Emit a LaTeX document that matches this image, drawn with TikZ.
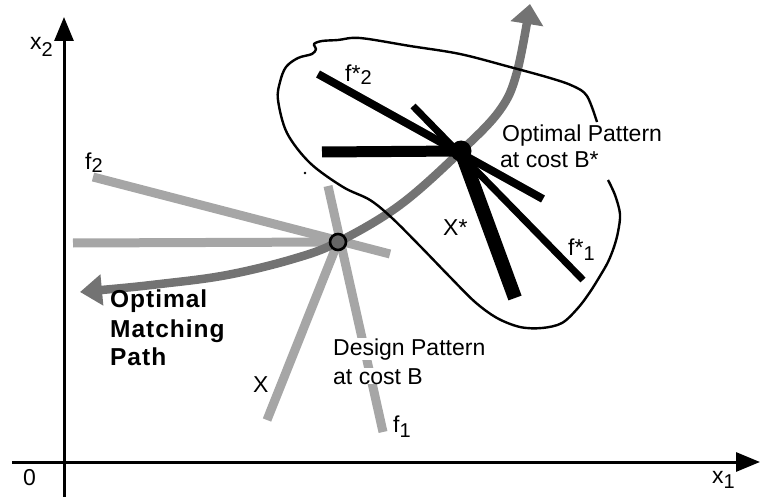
\documentclass[tikz,border=0pt]{standalone}
\usepackage{fontspec}
\setmainfont{Liberation Sans}
\usetikzlibrary{arrows.meta}
\newcommand{\lowsub}[2]{\raisebox{-#1pt}{\fontsize{20}{20}\selectfont #2}}
\begin{document}
\begin{tikzpicture}[x=1pt,y=-1pt,
  axis/.style={line width=3pt,-{Triangle[length=24pt,width=19pt]}},
  pathline/.style={line width=8.5pt,color=black!55,
     {Triangle[length=22pt,width=30pt]}-{Triangle[length=20pt,width=32pt]}},
  design/.style={line width=9pt,color=black!35},
  optline/.style={line width=8pt,black},
  boundary/.style={line width=2.4pt,black,line join=round},
  lbl/.style={font=\fontsize{23}{27}\selectfont,inner sep=0pt,anchor=base west},
  boldlbl/.style={font=\fontsize{24.5}{28}\selectfont\bfseries\addfontfeatures{LetterSpace=4},inner sep=0pt,anchor=base west}]
\useasboundingbox (0,0) rectangle (760,497);

% key points
\coordinate (D) at (338,242);
\coordinate (O) at (461,151);

% axes
\coordinate (yb) at (64,497);
\coordinate (yt) at (64,17);
\coordinate (xl) at (12,462);
\coordinate (xr) at (760,462);
\draw[axis] (yb) -- (yt);
\draw[axis] (xl) -- (xr);

% design pattern (gray)
\coordinate (f2a) at (93,177);
\coordinate (f2b) at (390,254);
\coordinate (ha) at (73,243);
\coordinate (f1a) at (328,186);
\coordinate (f1b) at (383,432);
\coordinate (xa) at (267,420);
\draw[design] (f2a) -- (f2b);
\draw[design] (ha) -- (D);
\draw[design] (f1a) -- (f1b);
\draw[design] (D) -- (xa);

% optimal matching path
\draw[pathline] plot[smooth,tension=0.6] coordinates {(80,292) (160,284) (227,275) (293,259) (338,242) (400,205) (461,151) (500,110) (517,72) (530,4)};

% design point
\fill[black!60] (D) circle (8);
\draw[black,line width=2.6pt] (D) circle (8);
\node[circle,inner sep=0pt,minimum size=19pt] (Dc) at (D) {};

% feasible region boundary (open at the label)
\draw[boundary] plot[smooth,tension=0.55] coordinates {(597,122) (587,96) (573,86) (550,78) (510,67) (460,54) (410,46) (360,38) (338,40) (322,41) (314,44) (316,49) (312,54) (298,58) (286,67) (280,82) (278,100) (287,133) (310,163) (343,187) (370,200) (392,218) (420,246) (450,277) (475,302) (497,318) (520,327) (542,328) (562,323) (578,308) (590,292) (600,276) (608,262) (614,247) (618,232) (620,214) (615,195) (608,180)};
\fill (305,173) circle (1.4);

% optimal pattern (black)
\coordinate (s2a) at (318,74);
\coordinate (s2b) at (543,199);
\coordinate (s1a) at (413,106);
\coordinate (s1b) at (583,280);
\coordinate (sha) at (322,152);
\coordinate (sxa) at (515,298);
\draw[optline] (s2a) -- (s2b);
\draw[optline,line width=7pt] (s1a) -- (s1b);
\draw[optline,line width=11pt] (sha) -- (O);
\draw[optline,line width=14pt] (O) -- (sxa);
\fill (O) circle (10.5);

% labels
\node[lbl] (lx2) at (30,50) {x\lowsub{7}{2}};
\node[lbl] (l0) at (23,485) {0};
\node[lbl] (lx1) at (712,483) {x\lowsub{5}{1}};
\node[lbl] (lf2) at (85,170) {f\lowsub{3}{2}};
\node[lbl] (lfs2) at (345,82) {f*\lowsub{3}{2}};
\node[lbl] (lop1) at (502,142) {Optimal Pattern};
\node[lbl] (lop2) at (500,168) {at cost B*};
\node[lbl] (lxs) at (443,235) {X*};
\node[lbl] (lfs1) at (568,255) {f*\lowsub{5}{1}};
\node[lbl,fill=white] (ld1) at (333,355) {Design Pattern};
\node[lbl,fill=white] (ld2) at (333,384) {at cost B};
\node[lbl] (lX) at (253,392) {X};
\node[lbl] (lf1) at (393,432) {f\lowsub{5}{1}};
\node[boldlbl] (lm1) at (110,307) {Optimal};
\node[boldlbl] (lm2) at (110,337) {Matching};
\node[boldlbl] (lm3) at (110,365) {Path};
\end{tikzpicture}
\end{document}
